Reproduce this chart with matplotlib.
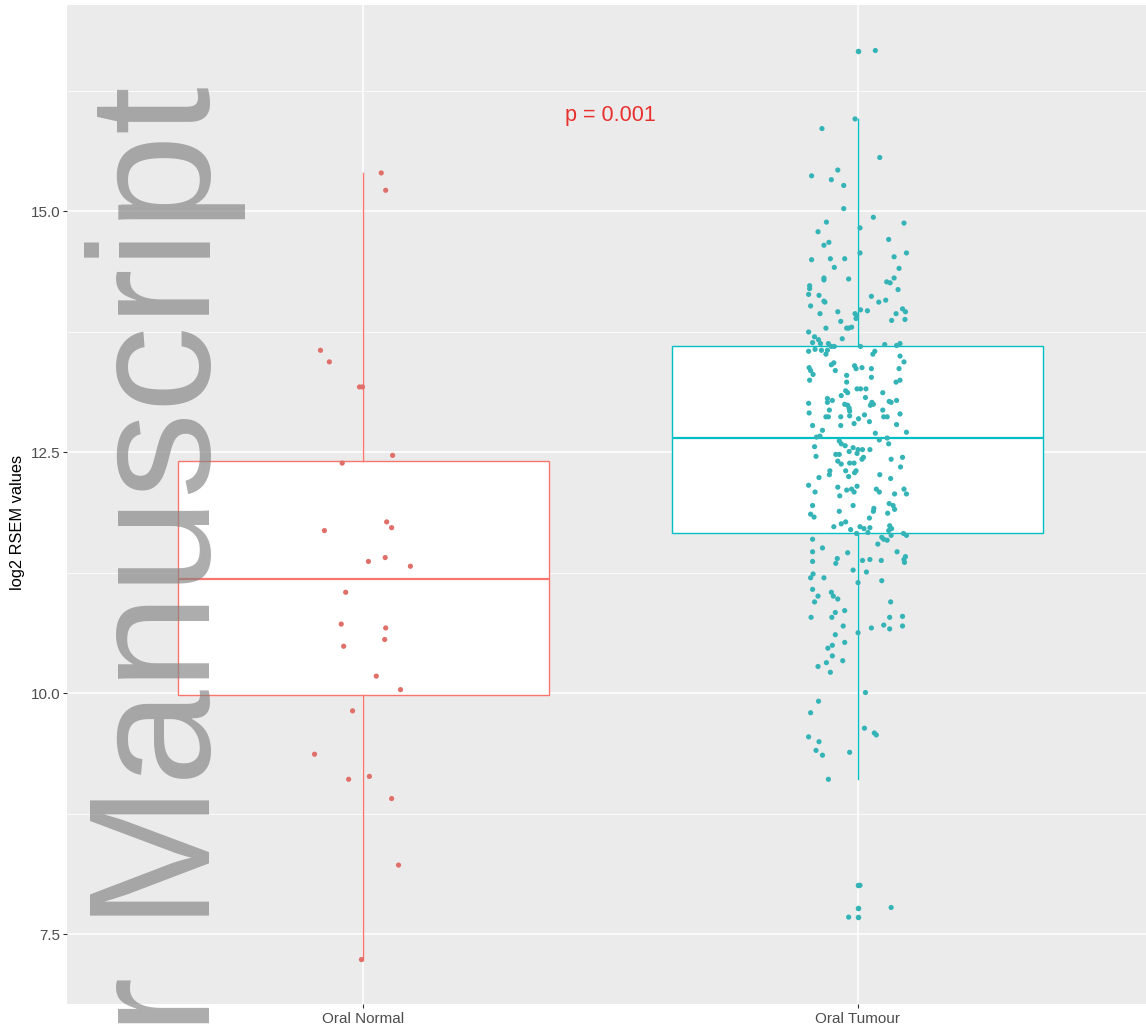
import numpy as np
import matplotlib
matplotlib.use("Agg")
import matplotlib.pyplot as plt

plt.rcParams['font.family'] = ['Liberation Sans', 'DejaVu Sans']

groups = ["Oral Normal", "Oral Tumour"]
pLabel = "p = 0.001"
yLabel = "log2 RSEM values"
watermark = "r Manuscript"

# values, with the horizontal jitter of each point
normalVals = [15.40, 15.22, 13.56, 13.44, 13.18, 13.18, 12.47, 12.39, 11.78, 11.72,
              11.69, 11.37, 11.41, 11.32, 11.05, 10.72, 10.68, 10.56, 10.49, 10.18,
              10.04, 9.82, 9.37, 9.11, 9.14, 8.91, 8.22, 7.24]
normalJit = [0.036, 0.045, -0.087, -0.069, -0.008, -0.002, 0.059, -0.043, 0.047, 0.057,
             -0.079, 0.010, 0.044, 0.095, -0.036, -0.045, 0.045, 0.043, -0.040, 0.026,
             0.075, -0.022, -0.099, -0.030, 0.012, 0.057, 0.071, -0.004]

tumourVals = [
    16.67, 15.96, 15.86, 15.56, 15.43, 15.37, 15.33, 15.27, 15.03, 14.94,
    14.88, 14.89, 14.79, 14.83, 14.68, 14.65, 14.71, 14.50, 14.51, 14.51,
    14.57, 14.57, 14.53, 14.42, 14.41, 14.31, 14.29, 14.30, 14.31, 14.27,
    14.26, 14.23, 14.20, 14.19, 14.14, 14.13, 14.12, 14.07, 14.06, 14.08,
    14.06, 14.02, 13.99, 13.96, 13.96, 13.97, 13.98, 13.94, 13.92, 13.94,
    13.94, 13.86, 13.89, 13.87, 13.88, 13.79, 13.79, 13.80, 13.79,
    13.75, 13.70, 13.67, 13.64, 13.63, 13.63, 13.60, 13.60, 13.57, 13.55,
    13.56, 13.56, 13.52, 13.68, 13.60, 13.62, 13.61, 13.63, 13.55, 13.52,
    13.50, 13.44, 13.38, 13.35, 13.31, 13.25, 13.41, 13.43, 13.35, 13.40,
    13.37, 13.38, 13.37, 13.28, 13.37, 13.30, 13.23, 13.23, 13.25, 13.14,
    13.12, 13.16, 13.16, 13.16, 13.12, 13.06, 13.02, 13.04, 13.09, 13.01,
    13.00, 12.99, 12.96, 12.93, 13.07, 13.02, 13.00, 12.99, 13.03, 13.02,
    13.04, 12.94, 12.91, 12.87, 12.87, 12.87, 12.88, 12.85, 12.89, 12.94,
    12.87, 12.87, 12.90, 12.78, 12.80, 12.82, 12.78, 12.73, 12.79, 12.70,
    12.71, 12.66, 12.67, 12.63, 12.65, 12.62, 12.59, 12.56, 12.59, 12.57,
    12.55, 12.53, 12.53, 12.53, 12.51, 12.48, 12.48, 12.49, 12.45, 12.43,
    12.46, 12.41, 12.38, 12.39, 12.39, 12.43, 12.45, 12.35, 12.31, 12.31,
    12.29, 12.31, 12.27, 12.27, 12.24, 12.25, 12.23, 12.16, 12.14, 12.15,
    12.11, 12.12, 12.09, 12.12, 12.09, 12.12, 12.07, 12.09, 12.07, 12.05,
    11.95, 11.95, 11.97, 11.95,
    11.89, 11.92, 11.89, 11.91, 11.86, 11.83, 11.87, 11.82, 11.78, 11.76,
    11.73, 11.73, 11.71, 11.72, 11.67, 11.70, 11.66, 11.74, 11.71, 11.69,
    11.64, 11.62, 11.60, 11.59, 11.66, 11.64, 11.60, 11.55, 11.51, 11.47,
    11.46, 11.47, 11.37, 11.40, 11.35, 11.38, 11.39, 11.38, 11.42, 11.39,
    11.36, 11.28, 11.26, 11.24, 11.20, 11.20, 11.17, 11.15, 11.08, 11.05,
    11.01, 11.01, 10.98, 10.95, 10.95, 10.86, 10.84, 10.79, 10.79, 10.79,
    10.80, 10.71, 10.67, 10.70, 10.68, 10.70, 10.63, 10.61, 10.53, 10.50,
    10.47, 10.39, 10.34, 10.32, 10.28, 10.22, 10.01,
    9.92, 9.80, 9.64, 9.59, 9.57, 9.55, 9.50, 9.41, 9.36, 9.39,
    9.11, 8.01, 7.78, 7.68]
tumourJit = [
    0.036, -0.005, -0.072, 0.045, -0.040, -0.093, -0.053, -0.028, -0.028, 0.032,
    0.094, -0.063, -0.080, 0.005, -0.058, -0.068, 0.063, -0.093, -0.055, -0.026,
    0.005, 0.099, 0.074, -0.047, 0.084, -0.068, -0.068, -0.018, 0.074, 0.059,
    0.066, -0.097, -0.097, 0.082, -0.099, -0.078, 0.028, -0.068, -0.066, 0.057,
    0.043, -0.095, 0.091, 0.097, -0.040, 0.020, 0.006, -0.005, -0.002, -0.076,
    0.078, -0.034, -0.003, 0.069, 0.096, -0.064, -0.022, -0.012, -0.018,
    -0.099, -0.087, -0.079, -0.091, -0.075, -0.059, -0.053, -0.047, -0.086, -0.099,
    -0.073, -0.061, -0.064, -0.031, 0.006, 0.055, 0.079, 0.086, 0.035, 0.031,
    0.086, 0.094, -0.098, -0.095, -0.090, -0.097, -0.053, -0.048, -0.045, -0.006,
    -0.003, 0.009, 0.028, 0.028, 0.084, -0.022, -0.022, 0.078, 0.086, -0.024,
    -0.020, -0.001, 0.006, 0.017, 0.051, -0.061, -0.061, -0.051, -0.033, -0.099,
    -0.026, -0.020, -0.017, -0.016, 0.016, 0.029, 0.032, 0.026, 0.064, 0.068,
    0.079, -0.057, -0.098, -0.064, -0.059, -0.034, -0.016, 0.002, 0.014, 0.051,
    0.053, 0.060, 0.086, -0.034, -0.007, 0.024, -0.091, -0.071, 0.079, 0.036,
    0.099, -0.083, -0.076, 0.044, 0.060, -0.037, 0.063, -0.087, -0.033, -0.025,
    -0.009, 0.001, 0.010, 0.025, -0.017, -0.044, -0.037, -0.001, 0.012, 0.009,
    -0.084, -0.040, -0.033, -0.016, -0.007, 0.068, 0.091, 0.087, -0.024, -0.003,
    -0.006, -0.056, -0.057, 0.045, -0.078, -0.018, 0.067, -0.099, -0.040, -0.001,
    -0.022, -0.012, -0.007, 0.038, 0.044, 0.094, 0.099, -0.086, 0.075, -0.036,
    -0.091, -0.009, 0.064, 0.072,
    -0.037, 0.033, 0.032, 0.075, -0.095, -0.088, 0.061, 0.024, -0.024, -0.033,
    -0.048, 0.005, 0.013, 0.025, 0.021, -0.014, -0.002, 0.065, 0.069, 0.063,
    0.068, 0.049, 0.053, 0.060, 0.093, 0.099, -0.091, 0.041, -0.071, -0.091,
    -0.020, 0.080, -0.091, -0.041, -0.044, 0.010, 0.025, 0.048, 0.097, 0.094,
    0.095, -0.009, 0.018, -0.090, -0.095, -0.068, 0.049, 0.001, -0.091, -0.053,
    -0.049, -0.080, -0.040, -0.087, 0.067, -0.026, -0.045, -0.052, -0.094, 0.065,
    0.091, 0.053, 0.065, 0.091, 0.028, -0.029, 0.001, -0.045, -0.026, -0.051,
    -0.060, -0.051, -0.030, -0.063, -0.080, -0.055, 0.016,
    -0.079, -0.095, 0.014, 0.034, 0.038, -0.099, -0.078, -0.084, -0.071, -0.016,
    -0.059, 0.005, 0.068, -0.018]

lineColors = ["#F8766D", "#00BFC4"]
pointColors = ["#E06F69", "#35B4B7"]

W, H = 1146, 1032
fig = plt.figure(figsize=(W / 100, H / 100), dpi=100)
ax = fig.add_axes([67 / W, 28 / H, 1087 / W, 999 / H])
ax.set_facecolor("#EBEBEB")

data = [np.array(normalVals), np.array(tumourVals)]
jits = [np.array(normalJit), np.array(tumourJit)]

bp = ax.boxplot(data, positions=[1, 2], widths=0.75, whis=1.5, patch_artist=True,
                showcaps=False, zorder=2)
for i in range(2):
    c = lineColors[i]
    bp["boxes"][i].set(facecolor="white", edgecolor=c, linewidth=1.0)
    bp["medians"][i].set(color=c, linewidth=1.6)
    for w in bp["whiskers"][2 * i:2 * i + 2]:
        w.set(color=c, linewidth=1.0)
    bp["fliers"][i].set(marker="o", markersize=4.0, markerfacecolor=pointColors[i],
                        markeredgecolor="none")

for i in range(2):
    ax.scatter(i + 1 + jits[i], data[i], s=14, color=pointColors[i],
               edgecolors="none", zorder=3)

ax.text(1.5, 16.0, pLabel, color="#E8312F", fontsize=15.5, ha="center", va="center")

ax.set_xlim(0.4, 2.6)
ax.set_ylim(6.779, 17.142)
ax.set_xticks([1, 2])
ax.set_xticklabels(groups)
ax.set_yticks([7.5, 10.0, 12.5, 15.0])
ax.set_yticklabels(["7.5", "10.0", "12.5", "15.0"])
ax.set_yticks([8.75, 11.25, 13.75, 16.25], minor=True)
ax.set_axisbelow(True)
ax.grid(which="major", color="white", linewidth=1.1)
ax.grid(which="minor", axis="y", color="white", linewidth=0.55)
ax.tick_params(which="major", length=3, width=0.8, color="#333333",
               labelcolor="#4D4D4D", labelsize=11)
ax.tick_params(axis="y", pad=1.5)
ax.tick_params(axis="x", pad=3)
ax.tick_params(which="minor", length=0)
for s in ax.spines.values():
    s.set_visible(False)

fig.text(18 / W, 1 - 522 / H, yLabel, rotation=90, ha="center", va="center",
         fontsize=11.8, color="black")

fig.text(210 / W, 1 - 86 / H, watermark, rotation=90, rotation_mode="anchor",
         ha="right", va="baseline", fontsize=124, color="#818181", alpha=0.65,
         zorder=10)

fig.savefig("out.png", dpi=100)
